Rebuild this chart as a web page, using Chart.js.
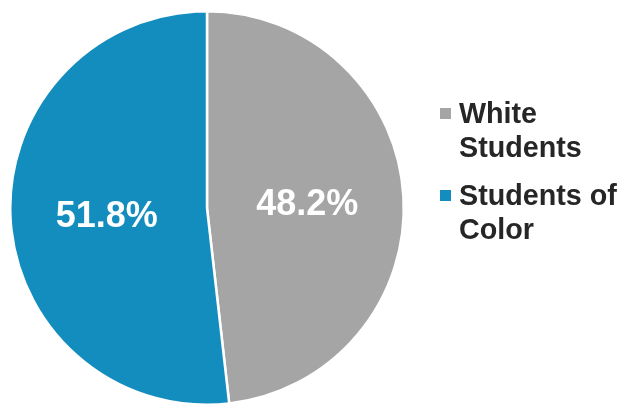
<!DOCTYPE html>
<html><head><meta charset="utf-8">
<script src="https://cdn.jsdelivr.net/npm/chart.js@4/dist/chart.umd.min.js"></script>
<style>html,body{margin:0;padding:0;background:#fff}#wrap{width:623px;height:406px;position:relative}</style>
</head><body><div id="wrap"><canvas id="c" width="623" height="406"></canvas></div>
<script>
const categories = ["White Students", "Students of Color"];
const legendLines = [["White", "Students"], ["Students of", "Color"]];
const values = [48.2, 51.8];
const colors = ["#a5a5a5", "#138dbe"];

const labelPlugin = {
  id: 'labels',
  afterDatasetsDraw(chart) {
    const ctx = chart.ctx;
    const meta = chart.getDatasetMeta(0);
    ctx.save();
    ctx.fillStyle = '#ffffff';
    ctx.font = 'bold 36px "Liberation Sans", Arial, sans-serif';
    ctx.textAlign = 'center';
    ctx.textBaseline = 'middle';
    meta.data.forEach((arc, i) => {
      const p = arc.getProps(['x','y','startAngle','endAngle','outerRadius'], true);
      const mid = (p.startAngle + p.endAngle) / 2;
      const r = p.outerRadius * 0.51;
      ctx.fillText(values[i].toFixed(1) + '%', p.x + Math.cos(mid) * r, p.y + Math.sin(mid) * r + 3);
    });
    ctx.restore();
  }
};

const legendPlugin = {
  id: 'customLegend',
  afterDraw(chart) {
    const ctx = chart.ctx;
    ctx.save();
    ctx.font = 'bold 28.7px "Liberation Sans", Arial, sans-serif';
    ctx.textAlign = 'left';
    ctx.textBaseline = 'alphabetic';
    let base = 123;
    legendLines.forEach((lines, i) => {
      ctx.fillStyle = colors[i];
      ctx.fillRect(440, base - 15, 11, 11);
      ctx.fillStyle = '#262626';
      lines.forEach((ln, j) => ctx.fillText(ln, 459, base + j * 34));
      base += 82;
    });
    ctx.restore();
  }
};

new Chart(document.getElementById('c'), {
  type: 'pie',
  data: {
    labels: categories,
    datasets: [{ data: values, backgroundColor: colors, borderColor: '#ffffff', borderWidth: 2.5 }]
  },
  options: {
    responsive: false,
    animation: false,
    layout: { padding: { left: 9, top: 10, right: 218, bottom: 0 } },
    plugins: { legend: { display: false }, tooltip: { enabled: false } }
  },
  plugins: [labelPlugin, legendPlugin]
});
</script></body></html>
